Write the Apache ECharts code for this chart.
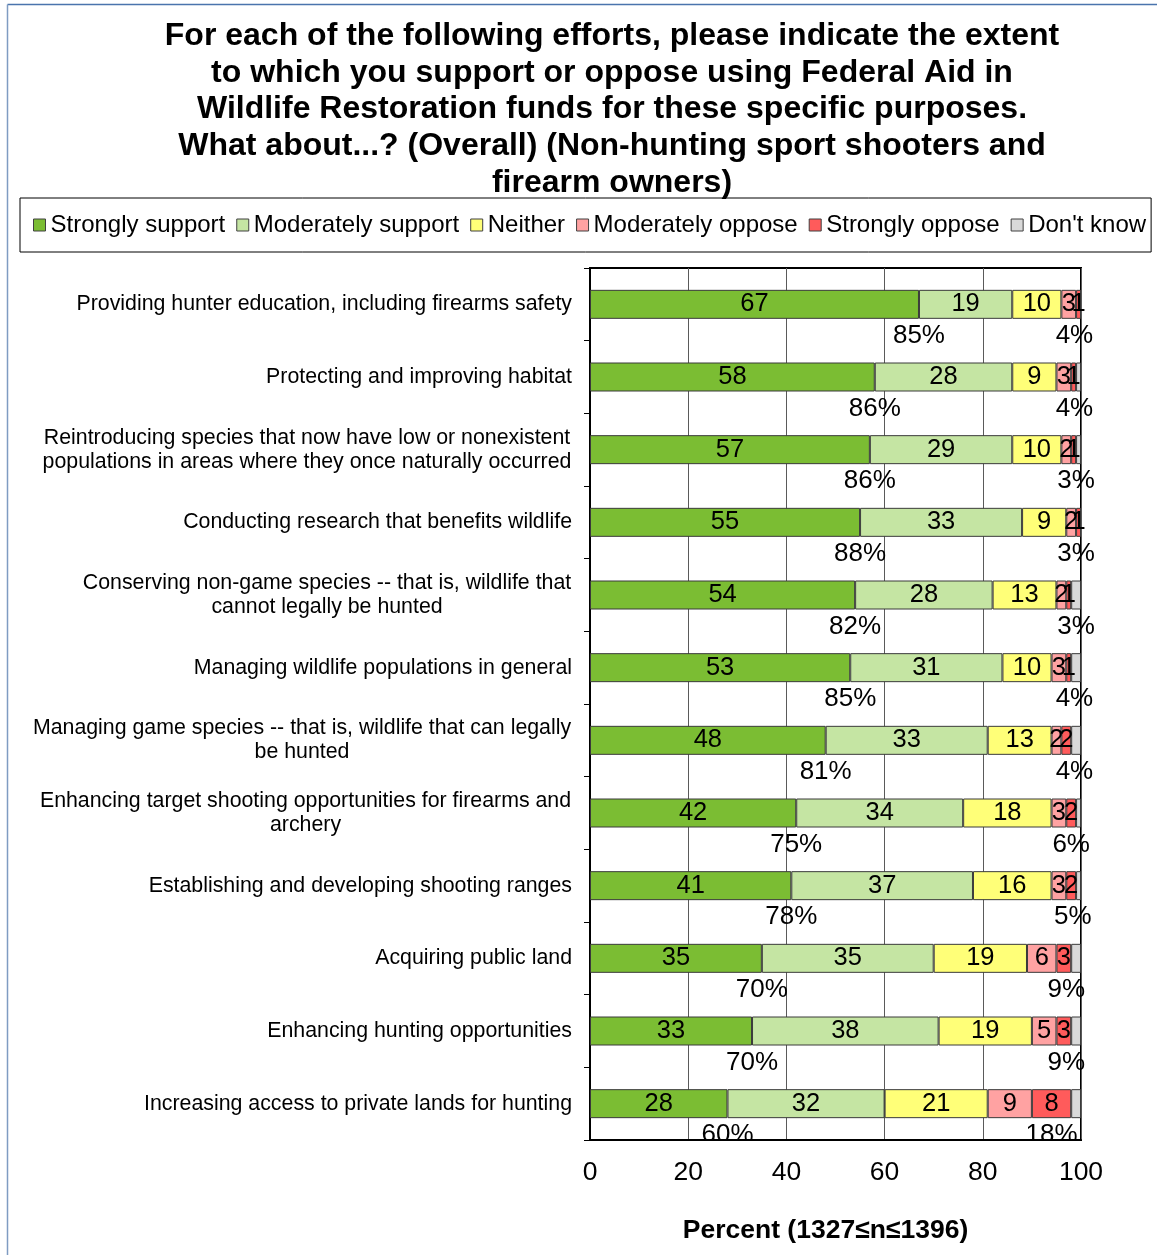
<!DOCTYPE html>
<html>
<head>
<meta charset="utf-8">
<script src="https://cdn.jsdelivr.net/npm/echarts@6/dist/echarts.min.js"></script>
<style>
  html, body { margin: 0; padding: 0; background: #fff; }
  #chart { width: 1157px; height: 1255px; }
</style>
</head>
<body>
<div id="chart"></div>
<script>
// Survey efforts (top to bottom)
const categories = [
  'Providing hunter education, including firearms safety',
  'Protecting and improving habitat',
  'Reintroducing species that now have low or nonexistent\npopulations in areas where they once naturally occurred',
  'Conducting research that benefits wildlife',
  'Conserving non-game species -- that is, wildlife that\ncannot legally be hunted',
  'Managing wildlife populations in general',
  'Managing game species -- that is, wildlife that can legally\nbe hunted',
  'Enhancing target shooting opportunities for firearms and\narchery',
  'Establishing and developing shooting ranges',
  'Acquiring public land',
  'Enhancing hunting opportunities',
  'Increasing access to private lands for hunting'
];

// Response shares (percent)
const stronglySupport   = [67, 58, 57, 55, 54, 53, 48, 42, 41, 35, 33, 28];
const moderatelySupport = [19, 28, 29, 33, 28, 31, 33, 34, 37, 35, 38, 32];
const neither           = [10, 9, 10, 9, 13, 10, 13, 18, 16, 19, 19, 21];
const moderatelyOppose  = [3, 3, 2, 2, 2, 3, 2, 3, 3, 6, 5, 9];
const stronglyOppose    = [1, 1, 1, 1, 1, 1, 2, 2, 2, 3, 3, 8];
const dontKnow          = [1, 1, 1, 1, 2, 2, 2, 1, 1, 2, 2, 2];

// Combined support / oppose totals
const supportTotal = [85, 86, 86, 88, 82, 85, 81, 75, 78, 70, 70, 60];
const opposeTotal  = [4, 4, 3, 3, 3, 4, 4, 6, 5, 9, 9, 18];

const xTicks = [0, 20, 40, 60, 80, 100];

const FONT = '"Liberation Sans", Arial, sans-serif';

// Measure text so wrapped category labels can be centred line by line
const measureCtx = document.createElement('canvas').getContext('2d');
function textWidth(str, size) {
  measureCtx.font = size + 'px ' + FONT;
  return measureCtx.measureText(str).width;
}
const CAT_SIZE = 21.33;
const catRich = {};
categories.forEach((c, i) => {
  if (c.indexOf('\n') >= 0) {
    const w = Math.max(...c.split('\n').map(l => textWidth(l, CAT_SIZE)));
    catRich['c' + i] = {
      width: Math.ceil(w) + 1, align: 'center',
      fontSize: CAT_SIZE, fontFamily: FONT, color: '#000', lineHeight: 24
    };
  }
});

const colors = ['#7BBD33', '#C5E5A3', '#FFFF78', '#FFA2A2', '#FF5B5B', '#D9D9D9'];
const names = ['Strongly support', 'Moderately support', 'Neither',
               'Moderately oppose', 'Strongly oppose', "Don't know"];
const values = [stronglySupport, moderatelySupport, neither,
                moderatelyOppose, stronglyOppose, dontKnow];

const barSeries = values.map((vals, k) => ({
  name: names[k],
  type: 'bar',
  stack: 'all',
  barWidth: 29,
  data: vals,
  itemStyle: { color: colors[k], borderColor: '#3a3a3a', borderWidth: 1 },
  label: {
    show: k < 5,
    position: 'inside',
    color: '#000',
    fontSize: 25.5,
    fontFamily: FONT
  },
  emphasis: { disabled: true },
  z: 3
}));

// Total labels sit on the boundary below each bar row
const totalData = [];
categories.forEach((c, i) => {
  totalData.push([stronglySupport[i], i, supportTotal[i] + '%']);
  totalData.push([100 - opposeTotal[i] / 3, i, opposeTotal[i] + '%']);
});

const totalSeries = {
  type: 'custom',
  name: 'totals',
  data: totalData,
  encode: { x: 0, y: 1 },
  clip: false,
  z: 5,
  renderItem: function (params, api) {
    const p = api.coord([api.value(0), api.value(1)]);
    const band = api.size([0, 1])[1];
    const cs = params.coordSys;
    return {
      type: 'group',
      clipPath: { type: 'rect', shape: { x: 0, y: cs.y, width: 1157, height: cs.height } },
      children: [{
        type: 'text',
        style: {
          text: totalData[params.dataIndex][2],
          x: p[0],
          y: p[1] + band / 2 - 5,
          align: 'center',
          verticalAlign: 'middle',
          fill: '#000',
          font: '26px ' + FONT
        }
      }]
    };
  }
};

const option = {
  animation: false,
  backgroundColor: '#fff',
  title: {
    text: 'For each of the following efforts, please indicate the extent\n' +
          'to which you support or oppose using Federal Aid in\n' +
          'Wildlife Restoration funds for these specific purposes.\n' +
          'What about...? (Overall) (Non-hunting sport shooters and\n' +
          'firearm owners)',
    left: 612,
    top: 18,
    padding: 0,
    textAlign: 'center',
    textStyle: {
      fontFamily: FONT, fontSize: 32, fontWeight: 'bold',
      color: '#000', lineHeight: 36.6
    }
  },
  legend: {
    data: names,
    left: 20,
    top: 198,
    padding: [15, 5, 15, 13],
    borderColor: '#000',
    borderWidth: 1,
    itemWidth: 12,
    itemHeight: 12,
    itemGap: 11,
    icon: 'rect',
    itemStyle: { borderColor: '#404040', borderWidth: 1 },
    textStyle: { fontFamily: FONT, fontSize: 24, color: '#000' },
    selectedMode: false
  },
  grid: {
    left: 590, right: 76, top: 268, bottom: 115,
    show: true, borderColor: '#000', borderWidth: 2,
    containLabel: false
  },
  xAxis: {
    type: 'value',
    min: xTicks[0],
    max: xTicks[xTicks.length - 1],
    interval: 20,
    axisLine: { show: true, lineStyle: { color: '#000', width: 2 } },
    axisTick: { show: false },
    splitLine: { show: true, lineStyle: { color: '#5a5a5a', width: 1 } },
    axisLabel: { fontFamily: FONT, fontSize: 26.5, color: '#000', margin: 19 },
    name: 'Percent (1327≤n≤1396)',
    nameLocation: 'middle',
    nameGap: 77,
    nameTextStyle: {
      fontFamily: FONT, fontSize: 26.5, fontWeight: 'bold', color: '#000',
      padding: [0, 20, 0, 0]
    }
  },
  yAxis: {
    type: 'category',
    data: categories,
    inverse: true,
    axisLine: { show: true, lineStyle: { color: '#000', width: 2 } },
    axisTick: { show: true, length: 6, lineStyle: { color: '#000', width: 1 } },
    splitLine: { show: false },
    axisLabel: {
      interval: 0,
      margin: 18,
      fontFamily: FONT, fontSize: CAT_SIZE, color: '#000', lineHeight: 24,
      align: 'right',
      formatter: function (value, idx) {
        if (value.indexOf('\n') < 0) return value;
        return value.split('\n').map(l => '{c' + idx + '|' + l + '}').join('\n');
      },
      rich: catRich
    }
  },
  graphic: [
    { type: 'line', shape: { x1: 7.5, y1: 4.5, x2: 1157, y2: 4.5 },
      style: { stroke: '#4a74ad', lineWidth: 1.5 }, silent: true },
    { type: 'line', shape: { x1: 7.5, y1: 4.5, x2: 7.5, y2: 1255 },
      style: { stroke: '#7f9cc2', lineWidth: 1.5 }, silent: true }
  ],
  series: barSeries.concat([totalSeries])
};

const chart = echarts.init(document.getElementById('chart'), null, { renderer: 'canvas' });
chart.setOption(option);
</script>
</body>
</html>
